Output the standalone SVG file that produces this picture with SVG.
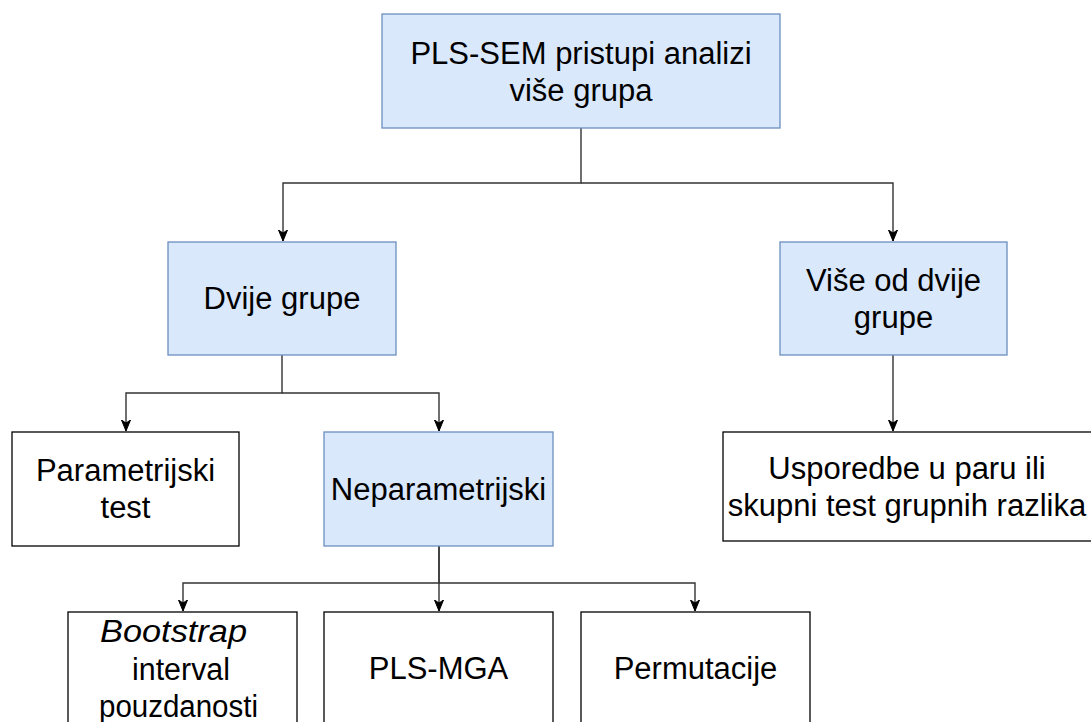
<svg xmlns="http://www.w3.org/2000/svg" width="1091" height="722" viewBox="0 0 1091 722">
<style>
.blue{fill:#dae8fc;stroke:#6c8ebf;stroke-width:1.3}
.white{fill:#ffffff;stroke:#000000;stroke-width:1.3}
.t{font-family:"Liberation Sans",Arial,sans-serif;font-size:31px;fill:#000;text-anchor:middle}
.e{fill:none;stroke:#333333;stroke-width:1.4}
</style>
<defs>
<marker id="arr" markerUnits="userSpaceOnUse" markerWidth="12" markerHeight="12" viewBox="0 0 12 12" refX="11" refY="6" orient="auto">
<path d="M0,1.5 L11,6 L0,10.5 L3,6 Z" fill="#000" stroke="#000" stroke-width="1"/>
</marker>
</defs>
<rect width="1091" height="722" fill="#ffffff"/>
<g id="edges">
<path class="e" d="M581,128 V183 H283 V241" marker-end="url(#arr)"/>
<path class="e" d="M581,183 H893 V241" marker-end="url(#arr)"/>
<path class="e" d="M282,355 V393 H126 V431" marker-end="url(#arr)"/>
<path class="e" d="M282,393 H439 V431" marker-end="url(#arr)"/>
<path class="e" d="M893,355 V431" marker-end="url(#arr)"/>
<path class="e" d="M439,546 V583 H183 V611" marker-end="url(#arr)"/>
<path class="e" d="M439,546 V611" marker-end="url(#arr)"/>
<path class="e" d="M439,583 H695 V611" marker-end="url(#arr)"/>
</g>
<g id="root">
<rect class="blue" x="382" y="14" width="398" height="114"/>
<text class="t" x="581" y="63.5">PLS-SEM pristupi analizi</text>
<text class="t" x="581" y="100.5">više grupa</text>
</g>
<g id="dvije">
<rect class="blue" x="168" y="242" width="228" height="113"/>
<text class="t" x="282" y="309">Dvije grupe</text>
</g>
<g id="vise">
<rect class="blue" x="780" y="242" width="227" height="113"/>
<text class="t" x="893.5" y="290.5">Više od dvije</text>
<text class="t" x="893.5" y="327.5">grupe</text>
</g>
<g id="parametrijski">
<rect class="white" x="12" y="432" width="227" height="114"/>
<text class="t" x="125.5" y="480.5">Parametrijski</text>
<text class="t" x="125.5" y="517.5">test</text>
</g>
<g id="neparametrijski">
<rect class="blue" x="324" y="432" width="229" height="114"/>
<text class="t" x="438.5" y="499.5">Neparametrijski</text>
</g>
<g id="usporedbe">
<rect class="white" x="723" y="432" width="372" height="109"/>
<text class="t" x="907" y="478.5">Usporedbe u paru ili</text>
<text class="t" x="907" y="516">skupni test grupnih razlika</text>
</g>
<g id="bootstrap">
<rect class="white" x="68" y="612" width="229" height="114"/>
<text class="t" x="173.5" y="642" font-style="italic" textLength="147" lengthAdjust="spacingAndGlyphs">Bootstrap</text>
<text class="t" x="181" y="680" textLength="98" lengthAdjust="spacingAndGlyphs">interval</text>
<text class="t" x="178.5" y="717" textLength="159" lengthAdjust="spacingAndGlyphs">pouzdanosti</text>
</g>
<g id="plsmga">
<rect class="white" x="324" y="612" width="229" height="114"/>
<text class="t" x="438.5" y="679">PLS-MGA</text>
</g>
<g id="permutacije">
<rect class="white" x="581" y="612" width="229" height="114"/>
<text class="t" x="695.5" y="679">Permutacije</text>
</g>
</svg>
